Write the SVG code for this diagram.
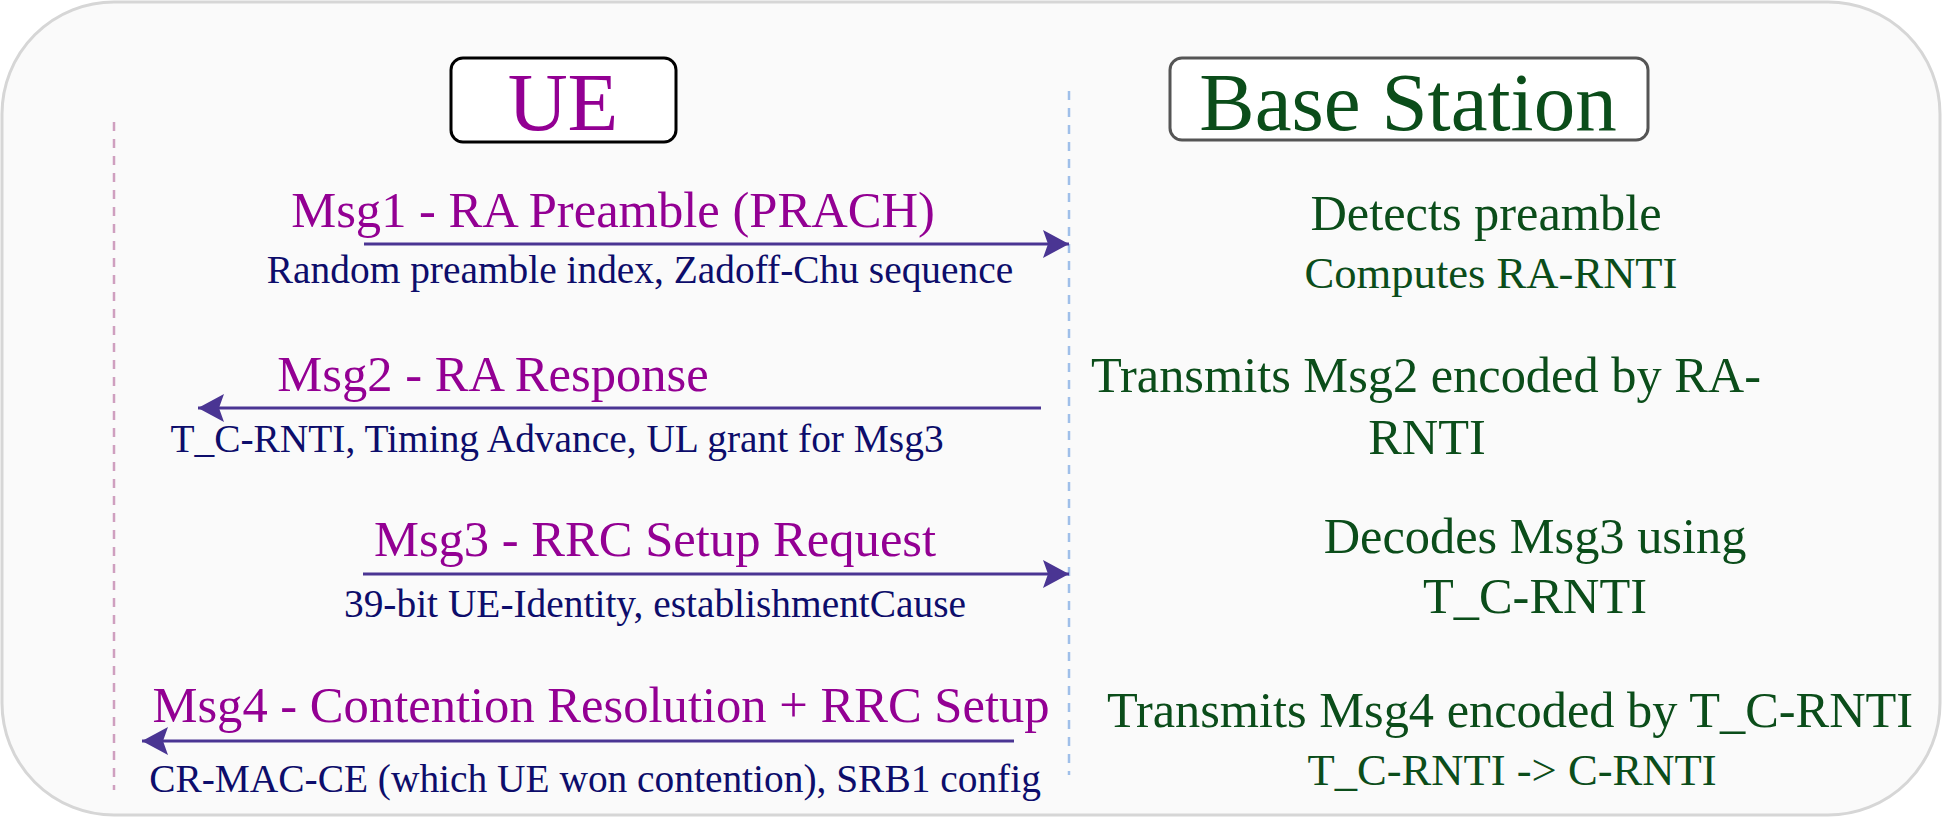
<svg xmlns="http://www.w3.org/2000/svg" width="1942" height="818" viewBox="0 0 1942 818">
<style>
.t{font-family:"Liberation Serif","Times New Roman",serif;text-anchor:middle}
.title{font-size:50.6px;fill:#930093}
.sub{font-size:39.4px;fill:#0d0d6b}
.gr{fill:#0b4d1a}
.g50{font-size:50.4px}
.g44{font-size:44.6px}
.msg{stroke:#4a3593;stroke-width:3;fill:none;marker-end:url(#ah)}
</style>
<defs>
<marker id="ah" markerUnits="userSpaceOnUse" markerWidth="28" markerHeight="30" refX="26" refY="14" orient="auto">
<path d="M26,14 L0,0 L5,14 L0,28 Z" fill="#4a3593"/>
</marker>
</defs>
<rect x="2" y="2" width="1938" height="813" rx="112" ry="112" fill="#fafafa" stroke="#d6d6d6" stroke-width="3"/>
<g id="lifelines">
<line x1="114" y1="122" x2="114" y2="790" stroke="#cf9fbf" stroke-width="2.5" stroke-dasharray="9 8"/>
<line x1="1069" y1="91" x2="1069" y2="775" stroke="#9fbfe9" stroke-width="2.5" stroke-dasharray="9 8"/>
</g>
<g id="ue">
<rect x="451" y="58" width="225" height="84" rx="12" fill="#ffffff" stroke="#000" stroke-width="3"/>
<text class="t" x="563" y="130" font-size="83" fill="#930093">UE</text>
</g>
<g id="base-station">
<rect x="1170" y="58" width="478" height="82" rx="12" fill="#ffffff" stroke="#555" stroke-width="3"/>
<text class="t gr" x="1408" y="130" font-size="83">Base Station</text>
</g>
<g id="connectors">
<line class="msg" x1="364" y1="244" x2="1069" y2="244"/>
<line class="msg" x1="1041" y1="408" x2="198" y2="408"/>
<line class="msg" x1="363" y1="574" x2="1069" y2="574"/>
<line class="msg" x1="1014" y1="741" x2="142" y2="741"/>
</g>
<g id="msg1">
<text class="t title" x="613" y="227">Msg1 - RA Preamble (PRACH)</text>
<text class="t sub" x="640" y="283">Random preamble index, Zadoff-Chu sequence</text>
</g>
<g id="msg2">
<text class="t title" x="493" y="391">Msg2 - RA Response</text>
<text class="t sub" x="557" y="452">T_C-RNTI, Timing Advance, UL grant for Msg3</text>
</g>
<g id="msg3">
<text class="t title" x="655" y="556">Msg3 - RRC Setup Request</text>
<text class="t sub" x="655" y="617">39-bit UE-Identity, establishmentCause</text>
</g>
<g id="msg4">
<text class="t title" x="601" y="722">Msg4 - Contention Resolution + RRC Setup</text>
<text class="t sub" x="595" y="792">CR-MAC-CE (which UE won contention), SRB1 config</text>
</g>
<g id="bs-actions">
<text class="t gr g50" x="1486" y="230">Detects preamble</text>
<text class="t gr g44" x="1491" y="288">Computes RA-RNTI</text>
<text class="t gr g50" x="1426" y="392">Transmits Msg2 encoded by RA-</text>
<text class="t gr g50" x="1427" y="454">RNTI</text>
<text class="t gr g50" x="1535" y="553">Decodes Msg3 using</text>
<text class="t gr g50" x="1535" y="613">T_C-RNTI</text>
<text class="t gr g50" x="1510" y="727">Transmits Msg4 encoded by T_C-RNTI</text>
<text class="t gr g44" x="1512" y="785">T_C-RNTI -&gt; C-RNTI</text>
</g>
</svg>
